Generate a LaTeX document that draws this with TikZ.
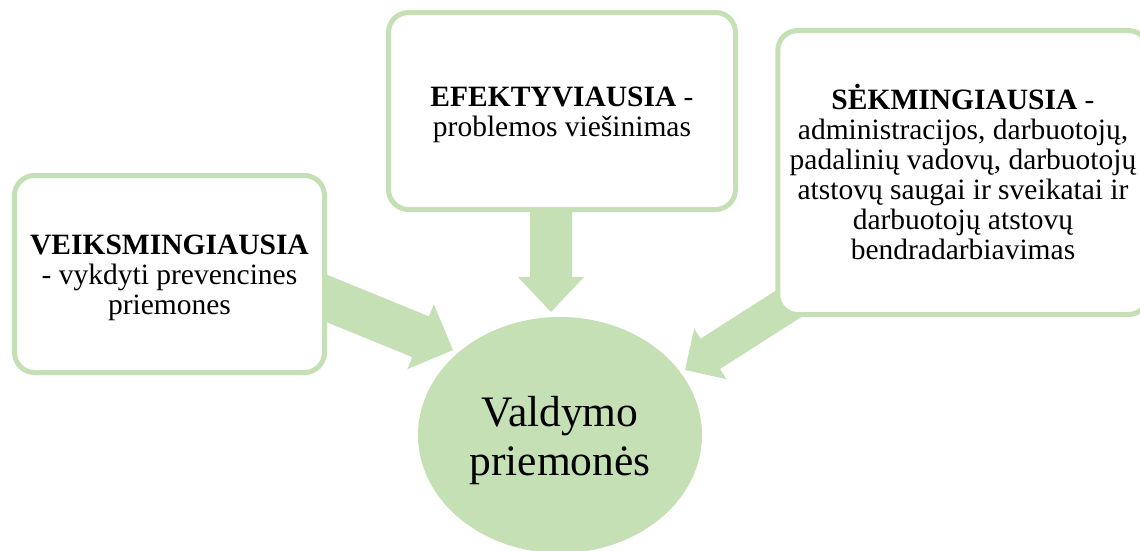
\documentclass[tikz,border=0pt]{standalone}
\usepackage{fontspec}
\setmainfont{Liberation Serif}
\usetikzlibrary{shapes.geometric,calc}
\definecolor{lgreen}{HTML}{C5E0B4}
% #1 start, #2 tip, #3 shaft half width, #4 head half width, #5 head length
\newcommand{\blockarrow}[5]{%
  \coordinate (ha) at ($(#2)!#5!(#1)$);
  \fill[lgreen] ($(#1)!#3!90:(#2)$) -- ($(ha)!#3!-90:(#1)$) -- ($(ha)!#4!-90:(#1)$) -- (#2)
    -- ($(ha)!#4!90:(#1)$) -- ($(ha)!#3!90:(#1)$) -- ($(#1)!#3!-90:(#2)$) -- cycle;
}
\begin{document}
\begin{tikzpicture}[x=1pt,y=-1pt,
  box/.style={draw=lgreen, line width=5pt, fill=white, rounded corners=20pt,
    align=center, inner sep=0pt, font=\fontsize{29.5}{30}\selectfont},
  hub/.style={ellipse, fill=lgreen, inner sep=0pt, align=center,
    font=\fontsize{43.5}{49}\selectfont}]
\clip (0,0) rectangle (1140,551);
\fill[white] (0,0) rectangle (1140,551);
% arrow end points
\coordinate (s1) at (302,288.3);
\coordinate (t1) at (453,350);
\coordinate (s2) at (551,150);
\coordinate (t2) at (551,312);
\coordinate (s3) at (812.8,288.3);
\coordinate (t3) at (685,370);
\blockarrow{s1}{t1}{22pt}{35pt}{35pt}
\blockarrow{s2}{t2}{21pt}{33pt}{35pt}
\blockarrow{s3}{t3}{18pt}{30pt}{30pt}
% boxes
\node[box, minimum width=310pt, minimum height=197pt] (L) at (169.5,274)
  {\rule{0pt}{27.5pt}\textbf{VEIKSMINGIAUSIA}\\- vykdyti prevencines\\priemones};
\node[box, minimum width=347pt, minimum height=197pt] (T) at (562,111)
  {\rule{0pt}{27.5pt}\textbf{EFEKTYVIAUSIA} -\\problemos viešinimas};
\node[box, minimum width=370.5pt, minimum height=284pt] (R) at (963,172.5)
  {\textbf{SĖKMINGIAUSIA} -\\administracijos, darbuotojų,\\padalinių vadovų, darbuotojų\\atstovų saugai ir sveikatai ir\\darbuotojų atstovų\\bendradarbiavimas};
% hub
\node[hub, minimum width=284pt, minimum height=236pt] (C) at (560,435)
  {\rule{0pt}{42pt}Valdymo\\priemonės};
\end{tikzpicture}
\end{document}
